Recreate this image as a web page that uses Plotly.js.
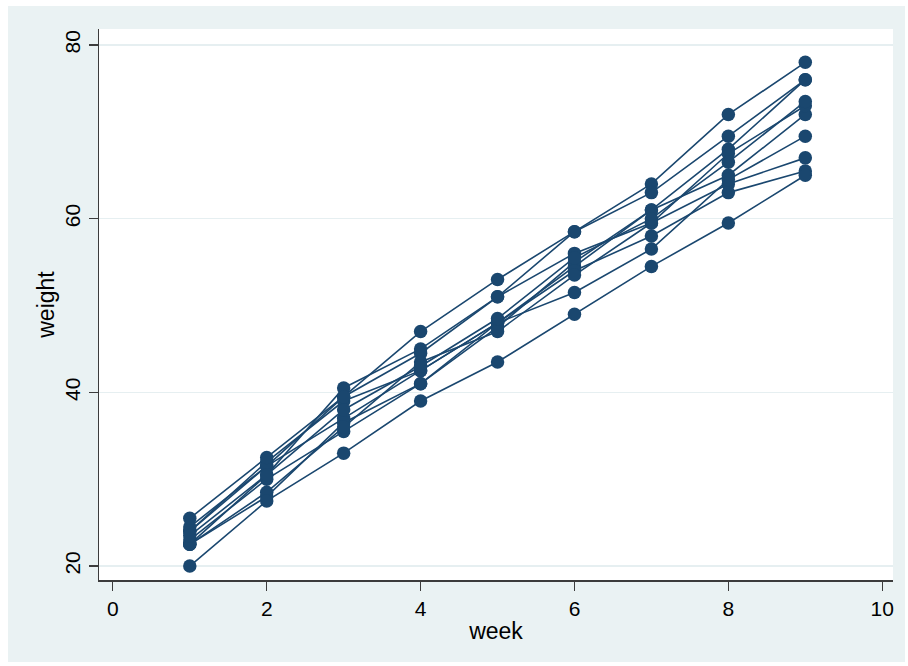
<!DOCTYPE html>
<html>
<head>
<meta charset="utf-8">
<script src="https://cdn.plot.ly/plotly-3.0.1.min.js"></script>
<style>
html, body { margin: 0; padding: 0; background: #ffffff; }
#chart { position: absolute; left: 8px; top: 6px; width: 897px; height: 656px; }
</style>
</head>
<body>
<div id="chart"></div>
<script>
// weeks 1..9
var weeks = [1, 2, 3, 4, 5, 6, 7, 8, 9];

// weight per pig
var pig1  = [24.0, 32.0, 39.0, 42.5, 48.0, 54.5, 61.0, 65.0, 72.0];
var pig2  = [22.5, 30.5, 40.5, 45.0, 51.0, 58.5, 64.0, 72.0, 78.0];
var pig3  = [22.5, 28.0, 36.5, 41.0, 47.5, 55.0, 61.0, 68.0, 76.0];
var pig4  = [24.0, 31.5, 39.5, 44.5, 51.0, 56.0, 59.5, 64.0, 67.0];
var pig5  = [24.5, 31.5, 37.0, 42.5, 48.0, 54.0, 58.0, 63.0, 65.5];
var pig6  = [23.0, 30.0, 35.5, 41.0, 48.0, 51.5, 56.5, 64.5, 69.5];
var pig7  = [22.5, 28.5, 36.0, 43.5, 47.0, 53.5, 59.5, 67.5, 73.0];
var pig8  = [23.5, 30.5, 38.0, 43.0, 48.5, 55.5, 60.0, 66.5, 73.5];
var pig9  = [20.0, 27.5, 33.0, 39.0, 43.5, 49.0, 54.5, 59.5, 65.0];
var pig10 = [25.5, 32.5, 39.5, 47.0, 53.0, 58.5, 63.0, 69.5, 76.0];

var pigs = [pig1, pig2, pig3, pig4, pig5, pig6, pig7, pig8, pig9, pig10];

var xTicks = [0, 2, 4, 6, 8, 10];
var yTicks = [20, 40, 60, 80];

var navy = '#1a476f';
var traces = pigs.map(function (w) {
  return {
    x: weeks, y: w, type: 'scatter', mode: 'lines+markers',
    line: { color: navy, width: 1.6 },
    marker: { color: navy, size: 13.5 },
    showlegend: false, hoverinfo: 'x+y'
  };
});

var tickFont = { family: 'Liberation Sans, Arial, sans-serif', size: 21, color: '#000000' };
var titleFont = { family: 'Liberation Sans, Arial, sans-serif', size: 23, color: '#000000' };

var layout = {
  width: 897, height: 656,
  paper_bgcolor: '#eaf2f3',
  plot_bgcolor: '#ffffff',
  margin: { l: 91, r: 12, t: 23, b: 82 },
  font: tickFont,
  showlegend: false,
  xaxis: {
    range: [-0.18, 10.14],
    tickvals: xTicks,
    ticktext: xTicks.map(String),
    showgrid: false, zeroline: false,
    showline: true, linecolor: '#3c3c3c', linewidth: 1.5,
    ticks: 'outside', ticklen: 9, tickcolor: '#3c3c3c', tickwidth: 1.2,
    tickfont: tickFont,
    title: { text: 'week', font: titleFont, standoff: 4 },
    automargin: false
  },
  yaxis: {
    range: [18.39, 81.84],
    tickvals: yTicks,
    ticktext: yTicks.map(String),
    tickangle: -90,
    showgrid: true, gridcolor: '#e6eff1', gridwidth: 1.3,
    zeroline: false,
    showline: true, linecolor: '#3c3c3c', linewidth: 1.5,
    ticks: 'outside', ticklen: 9, tickcolor: '#3c3c3c', tickwidth: 1.2,
    tickfont: tickFont,
    title: { text: 'weight', font: titleFont, standoff: 0 },
    automargin: false
  }
};

Plotly.newPlot('chart', traces, layout, { displayModeBar: false, staticPlot: true });
</script>
</body>
</html>
